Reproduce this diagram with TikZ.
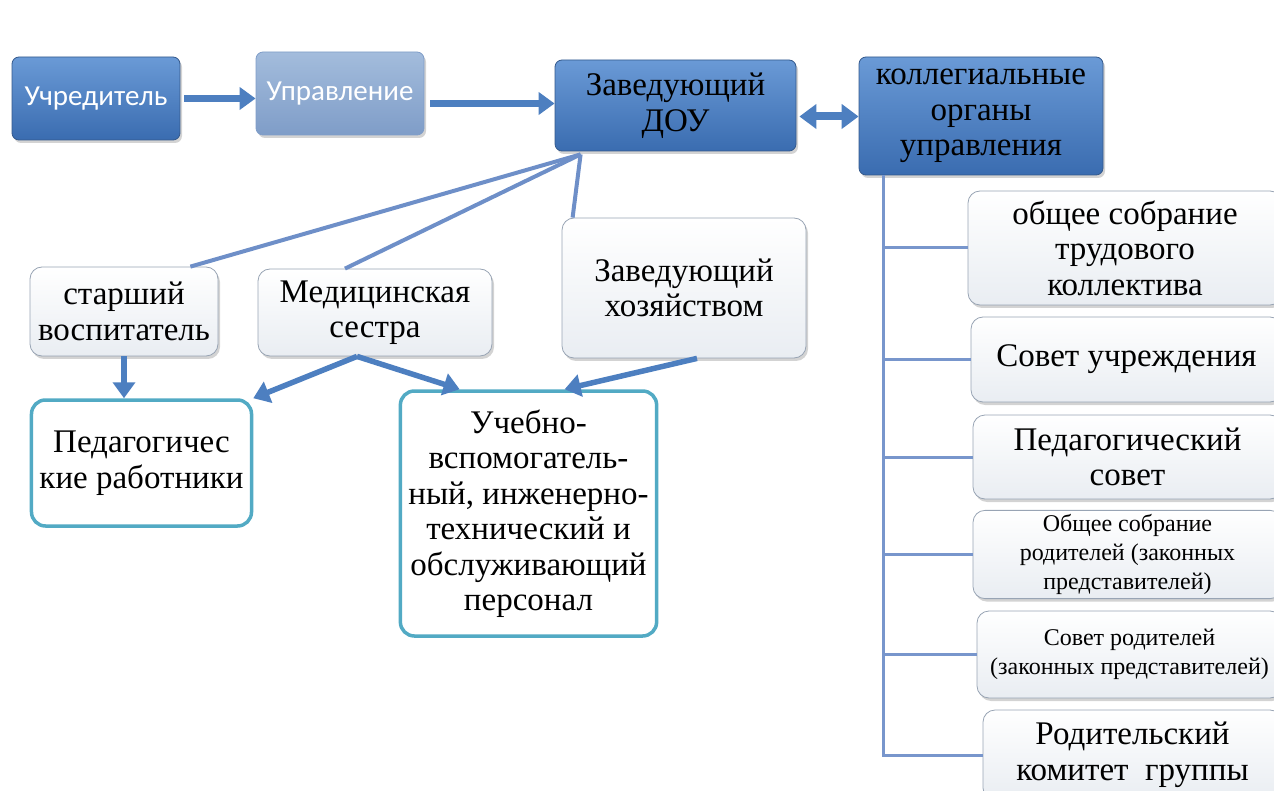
\documentclass[tikz,border=0pt]{standalone}
\usepackage{fontspec}
\setmainfont{Liberation Serif}
\newfontfamily\calib{Carlito}
\usetikzlibrary{shadows,arrows.meta,calc}
\definecolor{btop}{HTML}{6A9AD6}
\definecolor{bbot}{HTML}{3A6CB0}
\definecolor{bdr}{HTML}{34598C}
\definecolor{utop}{HTML}{A3BCDC}
\definecolor{ubot}{HTML}{7F9DC8}
\definecolor{arr}{HTML}{4D7FC0}
\definecolor{thin}{HTML}{6E8FC8}
\definecolor{teal}{HTML}{52AAC4}
\definecolor{wbot}{HTML}{E9EDF2}
\definecolor{wbdr}{HTML}{98A4B4}
\definecolor{tree}{HTML}{7896CC}
\begin{document}
\begin{tikzpicture}[x=1pt,y=-1pt,
  serif/.style={font=\fontsize{33}{35.5}\selectfont},
  small/.style={font=\fontsize{24}{29}\selectfont},
  shad/.style={drop shadow={opacity=0.35,shadow xshift=2pt,shadow yshift=-3pt}},
  bluebox/.style={shad,rounded corners=7pt,draw=bdr,line width=0.8pt,top color=btop,bottom color=bbot,align=center,inner sep=4pt},
  lightbox/.style={shad,rounded corners=7pt,draw=ubot,line width=0.8pt,top color=utop,bottom color=ubot,align=center,inner sep=4pt},
  whitebox/.style={shad,rounded corners=12pt,draw=wbdr,line width=0.8pt,top color=white,bottom color=wbot,align=center,inner sep=4pt,serif},
  tealbox/.style={rounded corners=14pt,draw=teal,line width=3.5pt,fill=white,align=center,inner sep=8pt,serif},
  thickarrow/.style={draw=arr,line width=7pt,-{Triangle[length=16pt,width=22pt]}},
  thinline/.style={draw=thin,line width=4pt},
  treeline/.style={draw=tree,line width=3pt},
  sanswhite/.style={font=\calib\fontsize{29}{32}\selectfont,text=white}
]
\useasboundingbox (0,0) rectangle (1274,791);
\clip (0,0) rectangle (1274,791);

% top row
\node[bluebox,sanswhite,minimum width=168,minimum height=83] (uch) at (96,98.5) {Учредитель};
\node[lightbox,sanswhite,minimum width=168,minimum height=83] (upr) at (340,93.5) {Управление};
\node[bluebox,serif,minimum width=241,minimum height=91] (zav) at (675.5,105.5) {Заведующий\\ДОУ};
\node[bluebox,serif,minimum width=244,minimum height=118] (kol) at (981,116) {коллегиальные\\органы\\управления};

% right column
\node[whitebox,minimum width=314,minimum height=114] (r1) at (1125,248) {общее собрание\\трудового\\коллектива};
\node[whitebox,minimum width=311,minimum height=85] (r2) at (1126.5,359.5) {Совет учреждения};
\node[whitebox,minimum width=309,minimum height=84] (r3) at (1127.5,457) {Педагогический\\совет};
\node[whitebox,small,minimum width=309,minimum height=85] (r4) at (1127.5,554.5) {Общее собрание\\родителей (законных\\представителей)};
\node[whitebox,small,minimum width=305,minimum height=87] (r5) at (1129.5,654.5) {Совет родителей\\(законных представителей)};
\node[whitebox,minimum width=299,minimum height=90] (r6) at (1132.5,755) {Родительский\\комитет\ \ группы};

% middle row
\node[whitebox,minimum width=188,minimum height=89] (star) at (124,311.5) {старший\\воспитатель};
\node[whitebox,minimum width=234,minimum height=87] (med) at (375,312.5) {Медицинская\\сестра};
\node[whitebox,minimum width=244,minimum height=140] (hoz) at (684,288) {Заведующий\\хозяйством};

% bottom row
\node[tealbox,minimum width=205,minimum height=126] (ped) at (141.5,463) {Педагогичес\\кие работники};
\node[tealbox,minimum width=239,minimum height=245] (ucheb) at (528.5,513.5) {Учебно-\\вспомогатель-\\ный, инженерно-\\технический и\\обслуживающий\\персонал};

% top arrows
\draw[thickarrow] (uch.east) ++(4,0) coordinate (a1) -- (a1 -| upr.west);
\draw[thickarrow] ($(upr.east)+(6,10)$) coordinate (a2) -- (a2 -| zav.west);
\draw[draw=arr,line width=8pt,{Triangle[length=17pt,width=24pt]}-{Triangle[length=17pt,width=24pt]}]
  ($(zav.east)+(3,11)$) coordinate (d1) -- (d1 -| kol.west);

% lines from head
\coordinate (z0) at ($(zav.south west)+(26,3)$);
\draw[thinline] (z0) -- ($(star.north east)+(-28,0)$);
\draw[thinline] (z0) -- ($(med.north)+(-30,0)$);
\draw[thinline] (z0) -- ($(hoz.north west)+(11,0)$);

% lower arrows
\draw[thickarrow,line width=5.5pt] (star.south) -- (star.south |- ped.north);
\coordinate (m0) at ($(med.south)+(-18,0)$);
\draw[thickarrow,line width=5.5pt] (m0) -- (ped.north east);
\draw[thickarrow,line width=5.5pt] (m0) -- ($(ucheb.north west)+(61,0)$);
\draw[thickarrow,line width=5.5pt] ($(hoz.south)+(13,0)$) -- ($(ucheb.north west)+(166,0)$);

% tree
\coordinate (t0) at ($(kol.south west)+(25,0)$);
\draw[treeline] (t0) -- (t0 |- r6.west) -- (r6.west);
\foreach \r in {r1,r2,r3,r4,r5}{
  \draw[treeline] (t0 |- \r.west) -- (\r.west);
}
\end{tikzpicture}
\end{document}
